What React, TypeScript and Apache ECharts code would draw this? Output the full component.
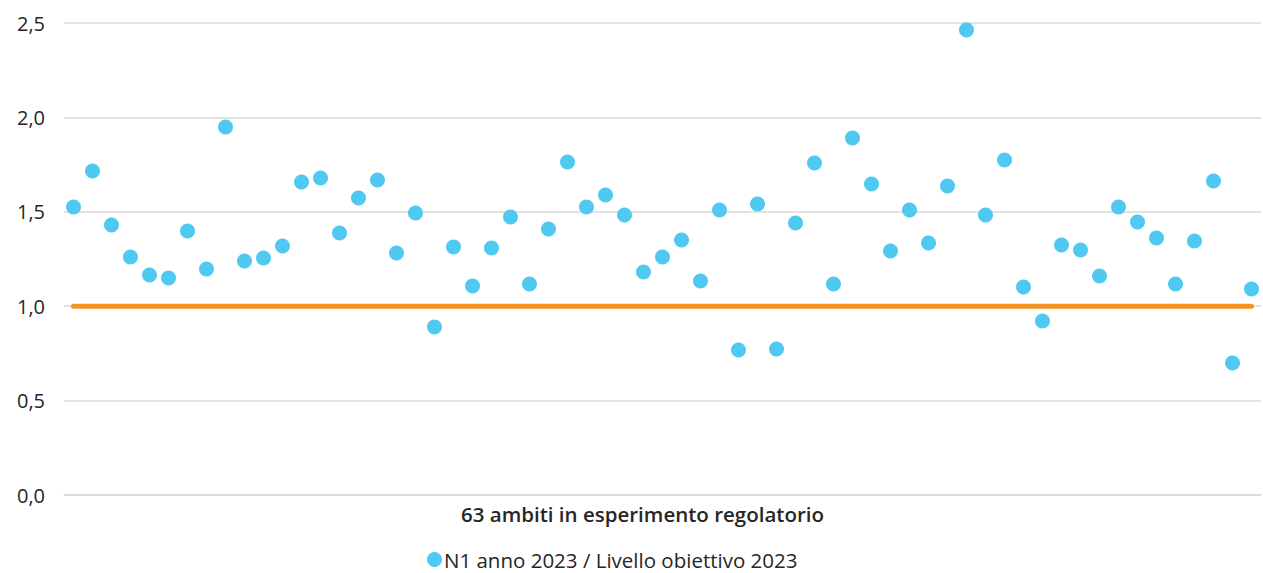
import React, { useEffect, useRef } from "react";
import * as echarts from "echarts";

const categories: string[] = Array.from({ length: 63 }, (_, i) => String(i + 1));
const ratioValues: number[] = [
  1.525, 1.716, 1.43, 1.261, 1.165, 1.149, 1.398, 1.197, 1.949, 1.239,
  1.255, 1.319, 1.658, 1.679, 1.388, 1.573, 1.668, 1.282, 1.494, 0.89,
  1.314, 1.107, 1.308, 1.472, 1.118, 1.409, 1.764, 1.525, 1.589, 1.483,
  1.181, 1.261, 1.351, 1.133, 1.51, 0.768, 1.541, 0.773, 1.441, 1.758,
  1.118, 1.891, 1.647, 1.292, 1.51, 1.335, 1.637, 2.463, 1.483, 1.774,
  1.102, 0.922, 1.324, 1.298, 1.16, 1.525, 1.446, 1.361, 1.118, 1.345,
  1.663, 0.699, 1.091,
];
const targetValues: number[] = categories.map(() => 1);
const seriesName = "N1 anno 2023 / Livello obiettivo 2023";
const xAxisTitle = "63 ambiti in esperimento regolatorio";

export default function App() {
  const ref = useRef<HTMLDivElement>(null);
  useEffect(() => {
    if (!ref.current) return;
    const chart = echarts.init(ref.current, undefined, { renderer: "svg" });
    const font = "'Open Sans', Lato, sans-serif";
    chart.setOption({
      animation: false,
      textStyle: { fontFamily: font },
      grid: { left: 64, right: 2, top: 23, bottom: 78, containLabel: false },
      legend: {
        data: [seriesName],
        top: 549,
        left: 427,
        padding: 0,
        icon: "circle",
        itemWidth: 15,
        itemHeight: 15,
        itemGap: 10,
        textStyle: {
          fontSize: 20.5,
          lineHeight: 20,
          color: "#262626",
          fontFamily: font,
          padding: [0, 0, 0, -3],
        },
      },
      xAxis: {
        type: "category",
        data: categories,
        boundaryGap: true,
        axisLine: { show: true, lineStyle: { color: "#d9d9d9", width: 1.5 } },
        axisTick: { show: false },
        axisLabel: { show: false },
        splitLine: { show: false },
        name: xAxisTitle,
        nameLocation: "middle",
        nameGap: 8,
        nameTextStyle: {
          fontSize: 20.5,
          fontWeight: 600,
          color: "#262626",
          fontFamily: font,
          verticalAlign: "top",
          padding: [0, 40, 0, 0],
        },
      },
      yAxis: {
        type: "value",
        min: 0,
        max: 2.5,
        interval: 0.5,
        axisLine: { show: false },
        axisTick: { show: false },
        axisLabel: {
          fontSize: 20,
          color: "#262626",
          margin: 19,
          fontFamily: font,
          formatter: (v: number) => v.toFixed(1).replace(".", ","),
        },
        splitLine: { lineStyle: { color: "#d9d9d9", width: 1.5 } },
      },
      series: [
        {
          name: "Livello obiettivo",
          type: "line",
          data: targetValues,
          showSymbol: false,
          symbol: "none",
          lineStyle: { color: "#F39325", width: 5, cap: "round" },
          itemStyle: { color: "#F39325" },
          z: 2,
        },
        {
          name: seriesName,
          type: "scatter",
          data: ratioValues,
          symbol: "circle",
          symbolSize: 15,
          itemStyle: { color: "#4FC9F1", opacity: 1 },
          z: 3,
        },
      ],
    });
    return () => chart.dispose();
  }, []);
  return (
    <div
      ref={ref}
      style={{ position: "fixed", left: 0, top: 0, width: 1263, height: 573, background: "#fff" }}
    />
  );
}
